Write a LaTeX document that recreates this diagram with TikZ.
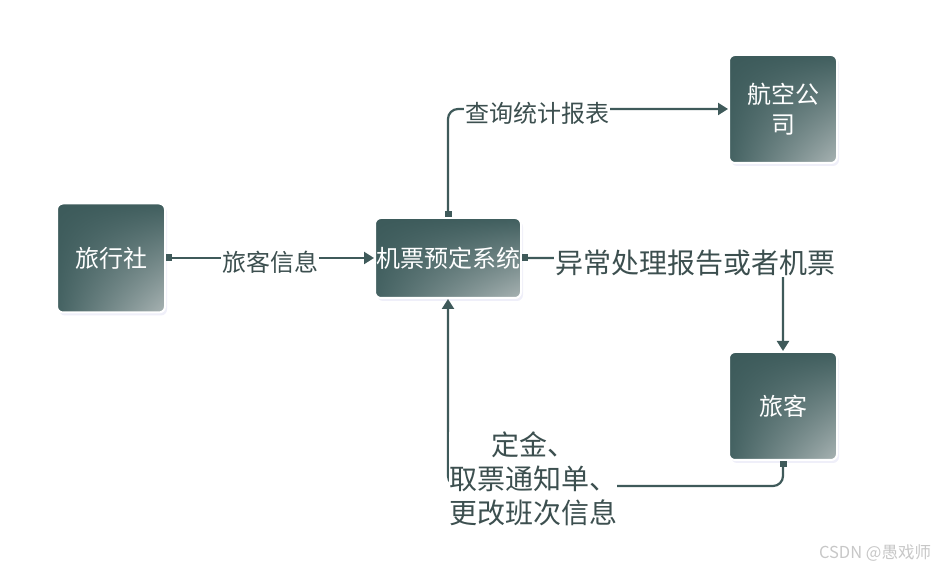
\documentclass[tikz,border=0pt]{standalone}
\usepackage{fontspec}
\newfontfamily\cjk{Noto Sans CJK SC}
\usetikzlibrary{arrows.meta,shadows,shadings,positioning}
\definecolor{lineC}{HTML}{3F5A5A}
\definecolor{nodeUL}{HTML}{3C5A5A}
\definecolor{nodeUR}{HTML}{405E5E}
\definecolor{nodeLL}{HTML}{446262}
\definecolor{nodeLR}{HTML}{A8B3B3}
\definecolor{labC}{HTML}{3C4F4F}
\tikzset{
  entity/.style={rounded corners=6pt, draw=white, line width=2pt,
    upper left=nodeUL, upper right=nodeUR, lower left=nodeLL, lower right=nodeLR,
    drop shadow={shadow xshift=2pt, shadow yshift=-3pt, opacity=0.25, fill=black!40!blue!25},
    text=white, font=\cjk\fontsize{24}{30}\selectfont, align=center, inner sep=0pt},
  flow/.style={draw=lineC, line width=2.2pt, rounded corners=10pt,
    {Square[length=6pt,width=7pt]}-{Triangle[length=10pt,width=12pt]}},
  lab/.style={font=\cjk\fontsize{24}{30}\selectfont, text=labC, fill=white, inner sep=1pt},
  biglab/.style={font=\cjk\fontsize{28}{34}\selectfont, text=labC, fill=white, inner sep=1pt, align=center},
}
\begin{document}
\begin{tikzpicture}[x=1pt,y=1pt]
\useasboundingbox (0,0) rectangle (938,569);
\node[entity, minimum width=108pt, minimum height=109pt] (agency) at (111,311) {旅行社};
\node[entity, minimum width=146pt, minimum height=80pt] (sys) at (448,311) {机票预定系统};
\node[entity, minimum width=108pt, minimum height=108pt] (air) at (783,460) {航空公\\司};
\node[entity, minimum width=108pt, minimum height=108pt] (pass) at (783,163) {旅客};

\draw[flow] (agency.east) -- (sys.west);
\node[lab] (l1) at (270,307) {旅客信息};

\draw[flow] (sys.north) |- (air.west);
\node[lab] (l2) at (537,456) {查询统计报表};

\draw[flow] (sys.east) -| (pass.north);
\node[biglab] (l3) at (695,306) {异常处理报告或者机票};

\coordinate (c4) at ([yshift=-25pt]pass.south);
\draw[flow] (pass.south) -- (c4) -| (sys.south);
\node[biglab, inner sep=0pt] (l4) at (533,90) {定金、\\取票通知单、\\更改班次信息};

\node[font=\cjk\fontsize{16.5}{18}\selectfont, text=black!22] (wm) at (875,16) {CSDN @愚戏师};
\end{tikzpicture}
\end{document}
